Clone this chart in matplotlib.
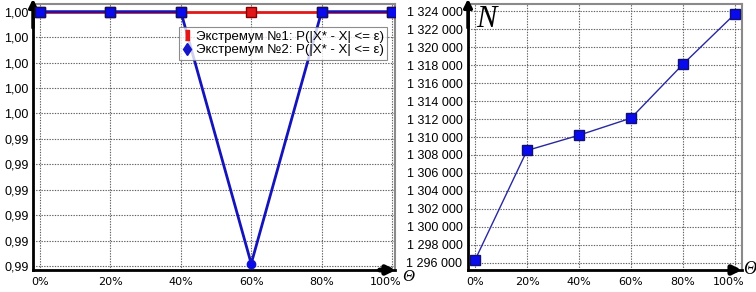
import matplotlib
matplotlib.use("Agg")
import matplotlib.pyplot as plt
import matplotlib.transforms as mtransforms
from matplotlib.lines import Line2D
from matplotlib.ticker import FuncFormatter, MultipleLocator

# данные
theta = [0, 20, 40, 60, 80, 100]
p_ext1 = [1.0, 1.0, 1.0, 1.0, 1.0, 1.0]
p_ext2 = [1.0, 1.0, 1.0, 0.9901, 1.0, 1.0]
n_calls = [1296300, 1308500, 1310200, 1312100, 1318100, 1323700]
x_labels = ["0%", "20%", "40%", "60%", "80%", "100%"]
label1 = "Экстремум №1: P(|X* - X| <= ε)"
label2 = "Экстремум №2: P(|X* - X| <= ε)"

plt.rcParams['font.family'] = ['Liberation Sans', 'DejaVu Sans']

fig = plt.figure(figsize=(7.56, 2.92), dpi=100)
ax1 = fig.add_axes([33/756, 22/292, 362/756, 266/292])
ax2 = fig.add_axes([468/756, 22/292, 274/756, 266/292])


def style_axes(ax):
    ax.grid(True, linestyle=(0, (1.2, 1.2)), color='#606060', linewidth=0.8)
    ax.set_axisbelow(True)
    for s in ('top', 'right'):
        ax.spines[s].set_color('#8a8a8a')
        ax.spines[s].set_linewidth(1.5)
    for s in ('left', 'bottom'):
        ax.spines[s].set_color('black')
        ax.spines[s].set_linewidth(2)
    ax.tick_params(length=0, labelsize=9)
    ax.tick_params(axis='x', pad=5)
    ax.set_xticks(theta)
    ax.set_xticklabels(x_labels, fontfamily='DejaVu Sans', fontsize=8)
    # последняя подпись чуть левее, как в оригинале
    last = ax.get_xticklabels()[-1]
    last.set_transform(last.get_transform() +
                       mtransforms.ScaledTranslation(-6/100, 0, fig.dpi_scale_trans))
    # стрелки осей
    ax.annotate('', xy=(0, 1.03), xytext=(0, 0.9), xycoords='axes fraction',
                arrowprops=dict(arrowstyle='-|>', color='black', lw=2.5,
                                mutation_scale=12), annotation_clip=False)
    ax.annotate('', xy=(1.01, 0), xytext=(0.95, 0), xycoords='axes fraction',
                arrowprops=dict(arrowstyle='-|>', color='black', lw=3.5,
                                mutation_scale=12), annotation_clip=False)


# левый график
style_axes(ax1)
ax1.plot(theta, p_ext1, color='#e01818', lw=2, marker='s', ms=6.5,
         mfc='#e01818', mec='#800000', zorder=3)
ax1.plot(theta, p_ext2, color='#1414b8', lw=2, zorder=4)
ax1.plot([t for i, t in enumerate(theta) if i != 3],
         [p for i, p in enumerate(p_ext2) if i != 3],
         ls='none', marker='s', ms=6.5, mfc='#0a0aee', mec='#101060', zorder=5)
ax1.plot(theta[3], p_ext2[3], ls='none', marker='o', ms=6,
         mfc='#0a0aee', mec='#1414c8', zorder=5)
ax1.set_xlim(-2, 100.85)
ax1.set_ylim(0.98985, 1.0003)
ax1.yaxis.set_major_locator(MultipleLocator(0.001))
ax1.yaxis.set_major_formatter(FuncFormatter(lambda v, p: ('%.2f' % v).replace('.', ',')))
ax1.tick_params(axis='y', pad=3)

rect = [(-0.45, -1), (0.45, -1), (0.45, 1), (-0.45, 1)]
h1 = Line2D([], [], ls='none', marker=rect, ms=7, color='#e01818', mec='#e01818')
h2 = Line2D([], [], ls='none', marker='d', ms=6, color='#1414c8', mec='#1414c8')
leg = ax1.legend([h1, h2], [label1, label2], loc='upper right',
                 bbox_to_anchor=(0.978, 0.912), fontsize=9.5, frameon=True,
                 fancybox=False, edgecolor='#707070', handlelength=0.6,
                 handletextpad=0.4, borderpad=0.25, labelspacing=0.1,
                 borderaxespad=0)
leg.get_frame().set_linewidth(0.8)
leg.set_zorder(6)
ax1.text(1.02, -0.025, 'Θ', transform=ax1.transAxes, fontsize=12,
         fontfamily='Liberation Serif', fontstyle='italic', va='center', ha='left')

# правый график
style_axes(ax2)
ax2.plot(theta, n_calls, color='#2828a0', lw=1, marker='s', ms=7.5,
         mfc='#0a0aee', mec='#101070', zorder=4)
ax2.set_xlim(-2.7, 102.7)
ax2.set_ylim(1295200, 1324800)
ax2.yaxis.set_major_locator(MultipleLocator(2000))
ax2.yaxis.set_major_formatter(FuncFormatter(lambda v, p: '{:,.0f}'.format(v).replace(',', ' ')))
ax2.tick_params(axis='y', pad=4)
ax2.text(1.005, 0.0, 'Θ', transform=ax2.transAxes, fontsize=13,
         fontfamily='Liberation Serif', fontstyle='italic', va='center', ha='left')
ax2.text(0.03, 0.995, 'N', transform=ax2.transAxes, fontsize=22,
         fontfamily='Liberation Serif', fontstyle='italic', va='top', ha='left')

fig.savefig('out.png', dpi=100)
